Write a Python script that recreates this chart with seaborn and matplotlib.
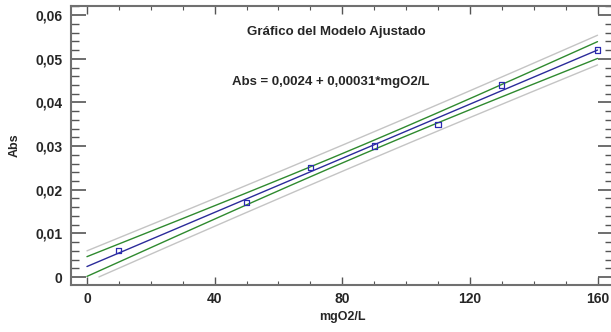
import numpy as np
import pandas as pd
import seaborn as sns
import matplotlib.pyplot as plt
from matplotlib.ticker import MultipleLocator

conc = [10, 50, 70, 90, 110, 130, 160]
absorb = [0.006, 0.017, 0.025, 0.030, 0.035, 0.044, 0.052]

x_ticks = [0, 40, 80, 120, 160]
x_tick_labels = ['0', '40', '80', '120', '160']
y_ticks = [0, 0.01, 0.02, 0.03, 0.04, 0.05, 0.06]
y_tick_labels = ['0', '0,01', '0,02', '0,03', '0,04', '0,05', '0,06']

title_txt = 'Gráfico del Modelo Ajustado'
eq_txt = 'Abs = 0,0024 + 0,00031*mgO2/L'

# least squares fit with 95% confidence / prediction bands
x = np.array(conc, dtype=float)
y = np.array(absorb)
n = len(x)
slope, icpt = np.polyfit(x, y, 1)
resid = y - (icpt + slope * x)
s = np.sqrt(np.sum(resid ** 2) / (n - 2))
t_crit = 2.5706  # t(0.975, df=5)
sxx = np.sum((x - x.mean()) ** 2)

xg = np.linspace(0, 160, 300)
fit = icpt + slope * xg
ci = t_crit * s * np.sqrt(1 / n + (xg - x.mean()) ** 2 / sxx)
pi = t_crit * s * np.sqrt(1 + 1 / n + (xg - x.mean()) ** 2 / sxx)

curves = pd.DataFrame({'x': xg, 'fit': fit,
                       'ci_lo': fit - ci, 'ci_hi': fit + ci,
                       'pi_lo': fit - pi, 'pi_hi': fit + pi})
# original plot clips the curves at y = 0
for c in ['ci_lo', 'pi_lo']:
    curves.loc[curves[c] < 0, c] = np.nan
pts = pd.DataFrame({'mgO2/L': conc, 'Abs': absorb})

sns.set_style('white')
plt.rcParams['font.family'] = ['Liberation Sans', 'DejaVu Sans']
plt.rcParams['font.weight'] = 'bold'

fig = plt.figure(figsize=(6.11, 3.32), dpi=100)
ax = fig.add_axes([0.1162, 0.1416, 0.8868, 0.8404])

for c in ['pi_lo', 'pi_hi']:
    sns.lineplot(data=curves, x='x', y=c, ax=ax, color='#c4c4c4', lw=1.0)
for c in ['ci_lo', 'ci_hi']:
    sns.lineplot(data=curves, x='x', y=c, ax=ax, color='#2f8a2f', lw=1.0)
sns.lineplot(data=curves, x='x', y='fit', ax=ax, color='#2b2b9a', lw=1.0)
sns.scatterplot(data=pts, x='mgO2/L', y='Abs', ax=ax, marker='s', s=14,
                facecolor='none', edgecolor='#2b2bb0', linewidth=0.9, zorder=5)

ax.set_xlim(-5, 164.8)
ax.set_ylim(-0.00183, 0.0621)
ax.set_xticks(x_ticks)
ax.set_xticklabels(x_tick_labels, fontsize=10, fontweight='bold')
ax.set_yticks(y_ticks)
ax.set_yticklabels(y_tick_labels, fontsize=10, fontweight='bold')
ax.xaxis.set_minor_locator(MultipleLocator(10))
ax.yaxis.set_minor_locator(MultipleLocator(0.002))

ax.tick_params(axis='y', which='major', direction='in', length=11, width=1.2,
               color='#555555', left=True, right=True, pad=6)
ax.tick_params(axis='y', which='minor', direction='in', length=6, width=1.0,
               color='#555555', left=True, right=True)
ax.tick_params(axis='x', which='major', direction='in', length=6, width=1.0,
               color='#555555', bottom=True, top=True, pad=5)
ax.tick_params(axis='x', which='minor', direction='in', length=3, width=0.8,
               color='#555555', bottom=True, top=True)

for sp in ax.spines.values():
    sp.set_color('#707070')
    sp.set_linewidth(1.5)

ax.set_xlabel('mgO2/L', fontsize=9, fontweight='bold', labelpad=4)
ax.set_ylabel('Abs', fontsize=9, fontweight='bold', labelpad=11)

ax.text(0.49, 0.905, title_txt, transform=ax.transAxes, ha='center', va='center',
        fontsize=9.5, fontweight='bold')
ax.text(0.48, 0.728, eq_txt, transform=ax.transAxes, ha='center', va='center',
        fontsize=9.5, fontweight='bold')

fig.savefig('out.png', dpi=100)
